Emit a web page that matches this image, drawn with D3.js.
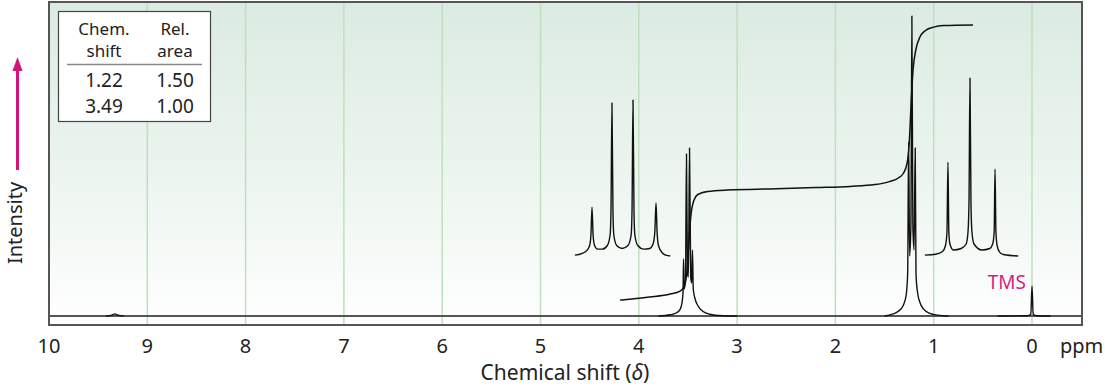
<!DOCTYPE html>
<html>
<head>
<meta charset="utf-8">
<script src="https://cdn.jsdelivr.net/npm/d3@7"></script>
<style>
  html, body { margin: 0; padding: 0; background: #fff; }
  svg { display: block; font-family: "Noto Sans", sans-serif; }
</style>
</head>
<body>
<svg id="chart" width="1105" height="388"></svg>
<script>
'use strict';

// ticks of the shift axis (ppm)
const xTicks = [10, 9, 8, 7, 6, 5, 4, 3, 2, 1, 0];
const gridTicks = [9, 8, 7, 6, 5, 4, 3, 2, 1, 0];

// table in the corner
const tableHeader = [['Chem.', 'shift'], ['Rel.', 'area']];
const tableRows = [['1.22', '1.50'], ['3.49', '1.00']];

// spectrum pieces, [ppm, intensity]
const bumpTrace = [[9.42, 0], [9.36, 0.3], [9.33, 0.7], [9.30, 0.3], [9.24, 0]];

const quartetTrace = [
  [3.80, 0], [3.68, 0.4], [3.62, 1.0], [3.58, 2.2], [3.56, 4.5], [3.55, 8],
  [3.545, 19], [3.538, 9], [3.525, 12], [3.515, 54], [3.505, 14], [3.495, 13],
  [3.484, 56], [3.472, 13], [3.462, 11], [3.454, 22], [3.446, 9], [3.43, 6],
  [3.40, 3.5], [3.35, 1.6], [3.28, 0.6], [3.15, 0.1], [3.00, 0]
];

const tripletTrace = [
  [1.50, 0], [1.42, 0.6], [1.36, 1.6], [1.31, 3.5], [1.28, 7], [1.265, 14],
  [1.255, 58], [1.245, 20], [1.232, 30], [1.222, 100], [1.212, 30], [1.20, 22],
  [1.188, 56], [1.18, 14], [1.165, 8], [1.14, 4.5], [1.10, 2.2], [1.04, 0.9],
  [0.96, 0.3], [0.85, 0]
];

const tmsTrace = [[0.35, 0], [0.05, 0.1], [0.012, 0.6], [0.0, 10], [-0.012, 0.6], [-0.05, 0.1], [-0.19, 0]];

// integral curve
const integralTrace = [
  [4.19, 5.3], [4.00, 5.9], [3.89, 6.3], [3.68, 7.3], [3.58, 8.3], [3.54, 9.7],
  [3.51, 15], [3.49, 25], [3.47, 33.5], [3.44, 38.5], [3.40, 40.5], [3.30, 41.5],
  [3.10, 42], [2.60, 42.4], [2.20, 42.8], [1.85, 43.2], [1.60, 43.8], [1.45, 44.8],
  [1.36, 46], [1.31, 47.5], [1.27, 51], [1.245, 60], [1.228, 72], [1.21, 82],
  [1.18, 89], [1.14, 93], [1.09, 95], [1.00, 96.3], [0.90, 96.8], [0.60, 97]
];

// expanded insets of the multiplets
const quartetInset = [
  [4.65, 20.3], [4.58, 20.8], [4.53, 21.8], [4.50, 23.5], [4.487, 27], [4.476, 36.3],
  [4.465, 27], [4.45, 23.5], [4.42, 22.3], [4.37, 22.3], [4.32, 23.5], [4.292, 27],
  [4.283, 35], [4.273, 71], [4.263, 35], [4.254, 27], [4.225, 23.5], [4.17, 22.5],
  [4.11, 23.5], [4.078, 27], [4.069, 35], [4.059, 72], [4.049, 35], [4.04, 27],
  [4.01, 23.5], [3.95, 22.3], [3.89, 22.5], [3.855, 24], [3.837, 28], [3.825, 37.7],
  [3.814, 28], [3.80, 23.5], [3.76, 21], [3.72, 20.2], [3.68, 20]
];

const tripletInset = [
  [1.09, 20.3], [0.98, 20.6], [0.91, 21.5], [0.88, 23.5], [0.865, 28], [0.855, 51.3],
  [0.846, 28], [0.835, 24], [0.80, 22], [0.72, 22.5], [0.67, 24], [0.651, 28],
  [0.641, 38], [0.631, 79.3], [0.621, 38], [0.611, 28], [0.59, 24], [0.51, 22],
  [0.43, 22.5], [0.40, 24], [0.385, 28], [0.376, 49], [0.367, 28], [0.355, 23.5],
  [0.33, 21.3], [0.29, 20.5], [0.14, 20]
];

const svg = d3.select('#chart');

// plot frame
const plotLeft = 49, plotRight = 1082, plotTop = 2, plotBottom = 325;

const x = d3.scaleLinear().domain([10, 0]).range([plotLeft, 1032]);
const y = d3.scaleLinear().domain([0, 100]).range([316, 16]);

// background gradient
const grad = svg.append('defs').append('linearGradient')
  .attr('id', 'bg').attr('x1', 0).attr('y1', 0).attr('x2', 0).attr('y2', 1);
grad.append('stop').attr('offset', '0%').attr('stop-color', '#dbebe2');
grad.append('stop').attr('offset', '55%').attr('stop-color', '#ecf5ef');
grad.append('stop').attr('offset', '100%').attr('stop-color', '#ffffff');

svg.append('rect')
  .attr('x', plotLeft).attr('y', plotTop)
  .attr('width', plotRight - plotLeft).attr('height', plotBottom - plotTop)
  .attr('fill', 'url(#bg)');

// gridlines
svg.append('g')
  .selectAll('line')
  .data(gridTicks)
  .enter()
  .append('line')
  .attr('x1', d => x(d)).attr('x2', d => x(d))
  .attr('y1', plotTop).attr('y2', plotBottom)
  .attr('stroke', '#bfe0bd')
  .attr('stroke-width', 1.5);

// spectrum baseline
svg.append('line')
  .attr('x1', plotLeft).attr('x2', plotRight)
  .attr('y1', y(0)).attr('y2', y(0))
  .attr('stroke', '#555')
  .attr('stroke-width', 2);

const line = d3.line()
  .x(d => x(d[0]))
  .y(d => y(d[1]))
  .curve(d3.curveMonotoneX);

const traces = [bumpTrace, quartetTrace, tripletTrace, tmsTrace, quartetInset, tripletInset];
svg.append('g')
  .selectAll('path')
  .data(traces)
  .enter()
  .append('path')
  .attr('d', d => line(d))
  .attr('fill', 'none')
  .attr('stroke', '#111')
  .attr('stroke-width', 1.4)
  .attr('stroke-linejoin', 'round');

svg.append('path')
  .attr('d', line(integralTrace))
  .attr('fill', 'none')
  .attr('stroke', '#111')
  .attr('stroke-width', 1.5);

// frame on top
svg.append('rect')
  .attr('x', plotLeft).attr('y', plotTop)
  .attr('width', plotRight - plotLeft).attr('height', plotBottom - plotTop)
  .attr('fill', 'none')
  .attr('stroke', '#555')
  .attr('stroke-width', 2);

// tick labels
svg.append('g')
  .selectAll('text')
  .data(xTicks)
  .enter()
  .append('text')
  .attr('x', d => x(d))
  .attr('y', 353)
  .attr('text-anchor', 'middle')
  .attr('font-size', 20)
  .attr('fill', '#222')
  .text(d => d);

svg.append('text')
  .attr('x', 1060).attr('y', 353)
  .attr('font-size', 20)
  .attr('fill', '#222')
  .text('ppm');

const xTitle = svg.append('text')
  .attr('x', 565).attr('y', 380)
  .attr('text-anchor', 'middle')
  .attr('font-size', 21)
  .attr('fill', '#222');
xTitle.append('tspan').text('Chemical shift (');
xTitle.append('tspan').attr('font-style', 'italic').text('δ');
xTitle.append('tspan').text(')');

// TMS label
svg.append('text')
  .attr('x', 1026).attr('y', 289)
  .attr('text-anchor', 'end')
  .attr('font-size', 19)
  .attr('fill', '#d81b7f')
  .text('TMS');

// intensity label and arrow
svg.append('text')
  .attr('transform', 'translate(22,223) rotate(-90)')
  .attr('text-anchor', 'middle')
  .attr('font-size', 20)
  .attr('fill', '#222')
  .text('Intensity');

svg.append('line')
  .attr('x1', 17.5).attr('x2', 17.5)
  .attr('y1', 170).attr('y2', 68)
  .attr('stroke', '#d4147a')
  .attr('stroke-width', 3);
svg.append('path')
  .attr('d', 'M17.5,57 L12.5,71 L22.5,71 Z')
  .attr('fill', '#d4147a');

// table
const tbl = svg.append('g');
tbl.append('rect')
  .attr('x', 58.5).attr('y', 11.5)
  .attr('width', 152).attr('height', 110)
  .attr('fill', '#fff')
  .attr('stroke', '#444')
  .attr('stroke-width', 1.2);

const colX = [104, 175];
tableHeader.forEach((lines, i) => {
  lines.forEach((t, j) => {
    tbl.append('text')
      .attr('x', colX[i]).attr('y', 35 + j * 22)
      .attr('text-anchor', 'middle')
      .attr('font-size', 17)
      .attr('fill', '#222')
      .text(t);
  });
});

tbl.append('line')
  .attr('x1', 67).attr('x2', 202)
  .attr('y1', 64.5).attr('y2', 64.5)
  .attr('stroke', '#888')
  .attr('stroke-width', 1.5);

tableRows.forEach((row, r) => {
  row.forEach((t, i) => {
    tbl.append('text')
      .attr('x', colX[i]).attr('y', 87 + r * 26)
      .attr('text-anchor', 'middle')
      .attr('font-size', 19)
      .attr('fill', '#222')
      .text(t);
  });
});
</script>
</body>
</html>
